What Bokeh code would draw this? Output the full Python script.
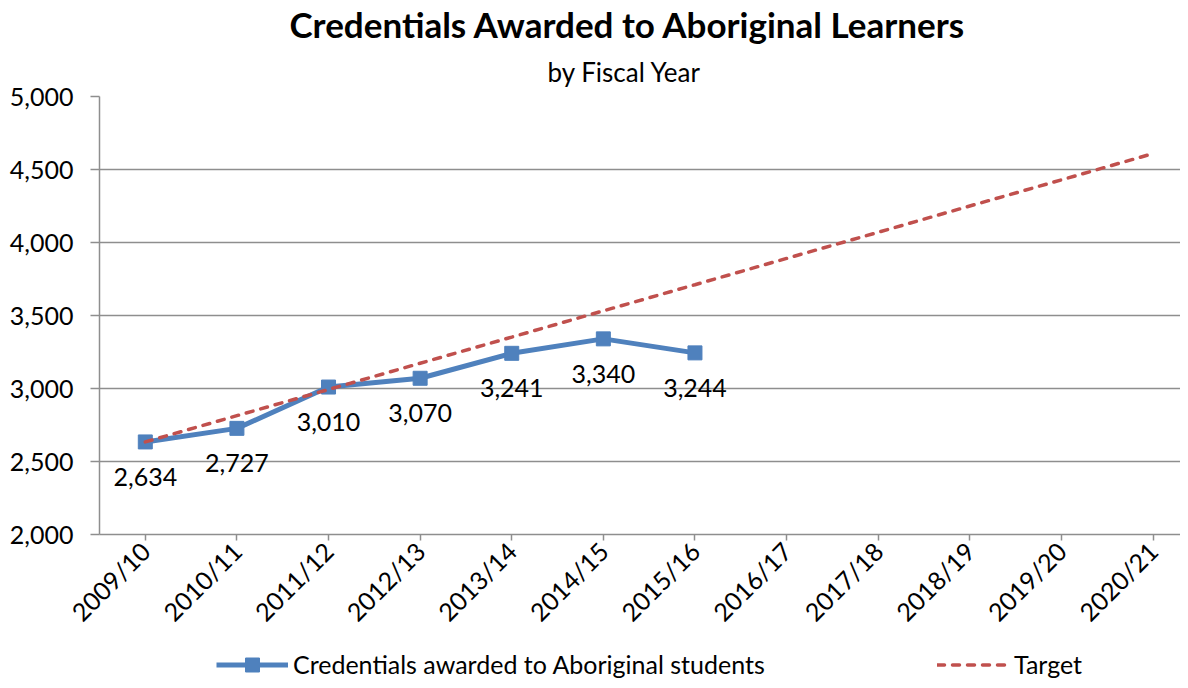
from math import pi
from bokeh.plotting import figure
from bokeh.layouts import column
from bokeh.models import (Range1d, FixedTicker, NumeralTickFormatter, Title,
                          Legend, LegendItem, ColumnDataSource)
from bokeh.embed import file_html
from bokeh.resources import INLINE
from bokeh.core.properties import value

years = ["2009/10", "2010/11", "2011/12", "2012/13", "2013/14", "2014/15",
         "2015/16", "2016/17", "2017/18", "2018/19", "2019/20", "2020/21"]
credentials = [2634, 2727, 3010, 3070, 3241, 3340, 3244]
target = [2634, 2814, 2993, 3173, 3352, 3532, 3711, 3891, 4070, 4250, 4429, 4609]
y_ticks = [2000, 2500, 3000, 3500, 4000, 4500, 5000]

FONT = "Lato"
BLUE = "#4F81BD"
RED = "#C0504D"
GRID = "#8e8e8e"
FS = "25px"

xs = list(range(len(years)))

p = figure(width=1180, height=640, output_backend="svg", toolbar_location=None,
           x_range=Range1d(-0.5, 11.30), y_range=Range1d(2000, 5000),
           min_border_left=99, min_border_right=0, min_border_top=95,
           min_border_bottom=103, title=None)
p.outline_line_color = None
p.background_fill_color = "white"
p.border_fill_color = "white"

src = ColumnDataSource(dict(x=xs[:len(credentials)], y=credentials,
                            lbl=[f"{v:,}" for v in credentials]))

blue_line = p.line("x", "y", source=src, line_color=BLUE, line_width=5)
blue_sq = p.scatter("x", "y", source=src, marker="square", size=14,
                    fill_color=BLUE, line_color=BLUE)
red_line = p.line(xs, target, line_color=RED, line_width=3.5, line_dash="7 8",
                  line_cap="round")

p.text("x", "y", text="lbl", source=src, y_offset=35, text_align="center",
       text_baseline="middle", text_font=value(FONT), text_font_size=FS,
       text_color="#000000")

# axes
p.xaxis.ticker = FixedTicker(ticks=xs)
p.xaxis.major_label_overrides = {i: y for i, y in enumerate(years)}
p.xaxis.major_label_orientation = pi / 4
p.xaxis.minor_tick_line_color = None
p.xaxis.major_tick_in = 0
p.xaxis.major_tick_out = 6
p.xaxis.major_label_standoff = 6
p.xaxis.axis_line_color = GRID
p.xaxis.axis_line_width = 1.5
p.xaxis.major_tick_line_color = GRID
p.xaxis.major_tick_line_width = 1.5

p.yaxis.ticker = FixedTicker(ticks=y_ticks)
p.yaxis.formatter = NumeralTickFormatter(format="0,0")
p.yaxis.minor_tick_line_color = None
p.yaxis.major_tick_in = 0
p.yaxis.major_tick_out = 9
p.yaxis.major_label_standoff = 17
p.yaxis.axis_line_color = GRID
p.yaxis.axis_line_width = 1.5
p.yaxis.major_tick_line_color = GRID
p.yaxis.major_tick_line_width = 1.5

for ax in (p.xaxis, p.yaxis):
    ax.major_label_text_font = FONT
    ax.major_label_text_font_size = FS
    ax.major_label_text_color = "#000000"

p.xgrid.visible = False
p.ygrid.grid_line_color = GRID
p.ygrid.grid_line_width = 1.5

# titles (first added sits closest to the frame)
p.add_layout(Title(text="by Fiscal Year", align="left", offset=448,
                   text_font=FONT, text_font_size="26px",
                   text_font_style="normal", text_color="#000000",
                   standoff=18), "above")
p.add_layout(Title(text="Credentials Awarded to Aboriginal Learners",
                   align="left", offset=190, text_font=FONT,
                   text_font_style="bold", text_font_size="35px",
                   text_color="#000000", standoff=0), "above")

# legend strip (its frame is aligned with the chart frame by the column)
p2 = figure(width=1180, height=40, output_backend="svg", toolbar_location=None,
            x_range=Range1d(-0.5, 11.30), y_range=Range1d(0, 1),
            x_axis_location=None, y_axis_location=None, min_border=0,
            title=None)
p2.outline_line_color = None
p2.xgrid.visible = False
p2.ygrid.visible = False
# proxies for the legend keys (data lies outside this strip's y range)
lg_line = p2.line(xs[:len(credentials)], credentials, line_color=BLUE, line_width=5)
lg_sq = p2.scatter(xs[:len(credentials)], credentials, marker="square",
                   fill_color=BLUE, line_color=BLUE)
lg_red = p2.line(xs, target, line_color=RED, line_width=3.5, line_dash="7 8",
                 line_cap="round")

common = dict(orientation="horizontal", glyph_width=72, glyph_height=35,
              label_standoff=5, padding=0, margin=0, border_line_color=None,
              background_fill_alpha=0, label_text_font=FONT,
              label_text_font_size=FS, label_text_color="#000000",
              label_height=35)
leg1 = Legend(items=[LegendItem(label="Credentials awarded to Aboriginal students",
                                renderers=[lg_line, lg_sq])],
              location=(117, -1.5), **common)
leg2 = Legend(items=[LegendItem(label="Target", renderers=[lg_red])],
              location=(838, -1.5), **common)
p2.add_layout(leg1)
p2.add_layout(leg2)

layout = column(p, p2, spacing=0)
open("out.html", "w").write(file_html(layout, INLINE))
